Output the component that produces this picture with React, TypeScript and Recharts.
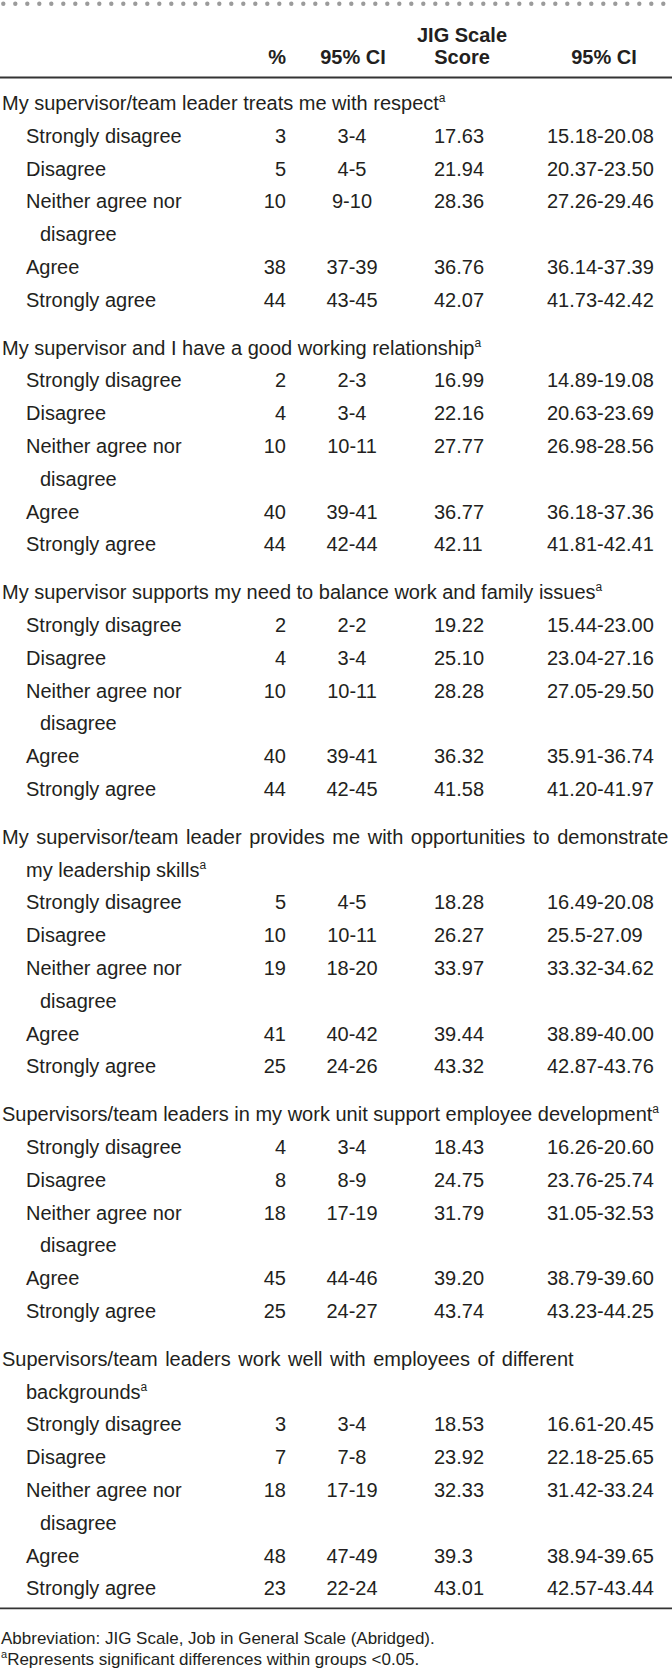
import { Surface, Layer } from 'recharts'

// Table: supervisor items vs JIG Scale score
const groupTitles: string[][] = [
  ['My supervisor/team leader treats me with respect'],
  ['My supervisor and I have a good working relationship'],
  ['My supervisor supports my need to balance work and family issues'],
  ['My supervisor/team leader provides me with opportunities to demonstrate', 'my leadership skills'],
  ['Supervisors/team leaders in my work unit support employee development'],
  ['Supervisors/team leaders work well with employees of different', 'backgrounds']
]

const responses: string[][] = [
  ['Strongly disagree'],
  ['Disagree'],
  ['Neither agree nor', 'disagree'],
  ['Agree'],
  ['Strongly agree']
]

const percents = [
  [3, 5, 10, 38, 44],
  [2, 4, 10, 40, 44],
  [2, 4, 10, 40, 44],
  [5, 10, 19, 41, 25],
  [4, 8, 18, 45, 25],
  [3, 7, 18, 48, 23]
]

const percentCI = [
  ['3-4', '4-5', '9-10', '37-39', '43-45'],
  ['2-3', '3-4', '10-11', '39-41', '42-44'],
  ['2-2', '3-4', '10-11', '39-41', '42-45'],
  ['4-5', '10-11', '18-20', '40-42', '24-26'],
  ['3-4', '8-9', '17-19', '44-46', '24-27'],
  ['3-4', '7-8', '17-19', '47-49', '22-24']
]

const jigScores = [
  ['17.63', '21.94', '28.36', '36.76', '42.07'],
  ['16.99', '22.16', '27.77', '36.77', '42.11'],
  ['19.22', '25.10', '28.28', '36.32', '41.58'],
  ['18.28', '26.27', '33.97', '39.44', '43.32'],
  ['18.43', '24.75', '31.79', '39.20', '43.74'],
  ['18.53', '23.92', '32.33', '39.3', '43.01']
]

const jigCI = [
  ['15.18-20.08', '20.37-23.50', '27.26-29.46', '36.14-37.39', '41.73-42.42'],
  ['14.89-19.08', '20.63-23.69', '26.98-28.56', '36.18-37.36', '41.81-42.41'],
  ['15.44-23.00', '23.04-27.16', '27.05-29.50', '35.91-36.74', '41.20-41.97'],
  ['16.49-20.08', '25.5-27.09', '33.32-34.62', '38.89-40.00', '42.87-43.76'],
  ['16.26-20.60', '23.76-25.74', '31.05-32.53', '38.79-39.60', '43.23-44.25'],
  ['16.61-20.45', '22.18-25.65', '31.42-33.24', '38.94-39.65', '42.57-43.44']
]

const footnotes = [
  { sup: '', text: 'Abbreviation: JIG Scale, Job in General Scale (Abridged).' },
  { sup: 'a', text: 'Represents significant differences within groups <0.05.' }
]

const WIDTH = 672
const HEIGHT = 1676
const FONT = '"Liberation Sans", Arial, sans-serif'
const NARROW = '"Liberation Sans Narrow", "Liberation Sans", sans-serif'
const INK = '#231f20'
const LINE = 32.8
const GROUP_GAP = 15
const FIRST_BASELINE = 110

export default function App() {
  // walk the rows, placing each text line one pitch below the last
  const cells: JSX.Element[] = []
  let y = FIRST_BASELINE
  groupTitles.forEach((title, g) => {
    title.forEach((t, i) => {
      const last = i === title.length - 1
      cells.push(
        <text key={`t${g}-${i}`} x={i === 0 ? 2 : 26} y={y} fontSize={20} fill={INK}
          style={{ wordSpacing: last ? 0 : 2 }}>
          {t}
          {last && <tspan fontSize={12} dy={-8}>a</tspan>}
        </text>
      )
      y += LINE
    })
    responses.forEach((r, k) => {
      cells.push(
        <Layer key={`r${g}-${k}`}>
          <text x={26} y={y} fontSize={20} fill={INK}>{r[0]}</text>
          <text x={286} y={y} fontSize={20} fill={INK} textAnchor="end">{percents[g][k]}</text>
          <text x={352} y={y} fontSize={20} fill={INK} textAnchor="middle">{percentCI[g][k]}</text>
          <text x={434} y={y} fontSize={20} fill={INK}>{jigScores[g][k]}</text>
          <text x={547} y={y} fontSize={20} fill={INK}>{jigCI[g][k]}</text>
          {r.slice(1).map((extra, e) => (
            <text key={e} x={40} y={y + LINE * (e + 1)} fontSize={20} fill={INK}>{extra}</text>
          ))}
        </Layer>
      )
      y += LINE * r.length
    })
    if (g < groupTitles.length - 1) y += GROUP_GAP
  })
  const bottomRule = y - LINE + 13

  return (
    <div style={{ position: 'absolute', left: 0, top: 0, width: WIDTH, height: HEIGHT, background: '#fff' }}>
      <Surface width={WIDTH} height={HEIGHT} style={{ fontFamily: FONT }}>
        <line x1={3.3} x2={WIDTH} y1={3.7} y2={3.7} stroke="#9b9b9b" strokeWidth={4.4}
          strokeLinecap="round" strokeDasharray="0 12" />
        <Layer>
          <text x={462} y={42} fontSize={20} fontWeight="bold" fill={INK} textAnchor="middle">JIG Scale</text>
          <text x={286} y={64} fontSize={20} fontWeight="bold" fill={INK} textAnchor="end">%</text>
          <text x={353} y={64} fontSize={20} fontWeight="bold" fill={INK} textAnchor="middle">95% CI</text>
          <text x={462} y={64} fontSize={20} fontWeight="bold" fill={INK} textAnchor="middle">Score</text>
          <text x={604} y={64} fontSize={20} fontWeight="bold" fill={INK} textAnchor="middle">95% CI</text>
        </Layer>
        <line x1={0} x2={WIDTH} y1={77.5} y2={77.5} stroke="#333" strokeWidth={1.8} />
        <Layer>{cells}</Layer>
        <line x1={0} x2={WIDTH} y1={bottomRule} y2={bottomRule} stroke="#333" strokeWidth={1.8} />
        {footnotes.map((f, i) => (
          <text key={i} x={1} y={bottomRule + 36 + i * 21} fontSize={17} fill={INK} style={{ fontFamily: NARROW }}>
            {f.sup && <tspan fontSize={11} dy={-7}>{f.sup}</tspan>}
            <tspan dy={f.sup ? 7 : 0}>{f.text}</tspan>
          </text>
        ))}
      </Surface>
    </div>
  )
}
